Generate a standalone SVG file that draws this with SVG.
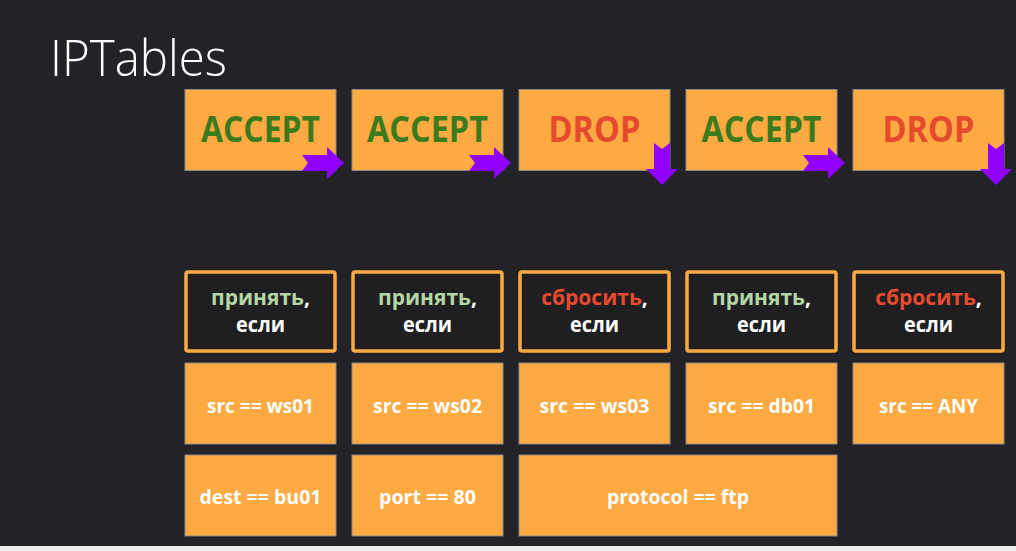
<svg xmlns="http://www.w3.org/2000/svg" width="1016" height="551" viewBox="0 0 1016 551">
<style>
.bg{fill:#232327}
.act{fill:#fdaa42;stroke:#8a8a8a;stroke-width:1}
.cond{fill:#1f1f22;stroke:#fdaa42;stroke-width:3.5}
.val{fill:#fdaa42;stroke:#8a8a8a;stroke-width:1}
.big{font-family:"Open Sans","Noto Sans",sans-serif;font-weight:700;font-size:35px;text-anchor:middle}
.acc{fill:#3b7b1d}
.drp{fill:#e64a2e}
.ct{font-family:"Open Sans","Noto Sans",sans-serif;font-weight:700;font-size:21px;text-anchor:middle;fill:#ffffff}
.g{fill:#b3d6a4}
.r{fill:#e64a2e}
.vt{font-family:"Open Sans","Noto Sans",sans-serif;font-weight:700;font-size:20px;text-anchor:middle;fill:#ffffff}
.arr{fill:#8f00ff}
</style>
<rect class="bg" x="0" y="0" width="1016" height="551"/>
<rect x="0" y="546" width="1016" height="5" fill="#eeeeee"/>
<text x="50" y="76" font-family="'Open Sans','Noto Sans',sans-serif" font-weight="300" font-size="50" fill="#ffffff" textLength="177" lengthAdjust="spacingAndGlyphs">IPTables</text>

<g id="action1"><rect class="act" x="185" y="89.5" width="151" height="81"/><text class="big acc" x="260.5" y="142" textLength="119" lengthAdjust="spacingAndGlyphs">ACCEPT</text></g>
<g id="action2"><rect class="act" x="352" y="89.5" width="151" height="81"/><text class="big acc" x="427.5" y="142" textLength="121" lengthAdjust="spacingAndGlyphs">ACCEPT</text></g>
<g id="action3"><rect class="act" x="519" y="89.5" width="151" height="81"/><text class="big drp" x="594.5" y="142" textLength="92" lengthAdjust="spacingAndGlyphs">DROP</text></g>
<g id="action4"><rect class="act" x="686" y="89.5" width="151" height="81"/><text class="big acc" x="761.5" y="142" textLength="120" lengthAdjust="spacingAndGlyphs">ACCEPT</text></g>
<g id="action5"><rect class="act" x="853" y="89.5" width="151" height="81"/><text class="big drp" x="928.5" y="142" textLength="92" lengthAdjust="spacingAndGlyphs">DROP</text></g>

<g id="cond1"><rect class="cond" x="186" y="272" width="149" height="79" rx="2"/><text class="ct" x="260.5" y="305"><tspan class="g">принять</tspan>,</text><text class="ct" x="260.5" y="332" textLength="49" lengthAdjust="spacingAndGlyphs">если</text></g>
<g id="cond2"><rect class="cond" x="353" y="272" width="149" height="79" rx="2"/><text class="ct" x="427.5" y="305"><tspan class="g">принять</tspan>,</text><text class="ct" x="427.5" y="332" textLength="49" lengthAdjust="spacingAndGlyphs">если</text></g>
<g id="cond3"><rect class="cond" x="520" y="272" width="149" height="79" rx="2"/><text class="ct" x="594.5" y="305"><tspan class="r">сбросить</tspan>,</text><text class="ct" x="594.5" y="332" textLength="49" lengthAdjust="spacingAndGlyphs">если</text></g>
<g id="cond4"><rect class="cond" x="687" y="272" width="149" height="79" rx="2"/><text class="ct" x="761.5" y="305"><tspan class="g">принять</tspan>,</text><text class="ct" x="761.5" y="332" textLength="49" lengthAdjust="spacingAndGlyphs">если</text></g>
<g id="cond5"><rect class="cond" x="854" y="272" width="149" height="79" rx="2"/><text class="ct" x="928.5" y="305"><tspan class="r">сбросить</tspan>,</text><text class="ct" x="928.5" y="332" textLength="49" lengthAdjust="spacingAndGlyphs">если</text></g>

<g id="val1"><rect class="val" x="185" y="363" width="151" height="81"/><text class="vt" x="260.5" y="413" textLength="107" lengthAdjust="spacingAndGlyphs">src == ws01</text></g>
<g id="val2"><rect class="val" x="352" y="363" width="151" height="81"/><text class="vt" x="427.5" y="413" textLength="109" lengthAdjust="spacingAndGlyphs">src == ws02</text></g>
<g id="val3"><rect class="val" x="519" y="363" width="151" height="81"/><text class="vt" x="594.5" y="413" textLength="110" lengthAdjust="spacingAndGlyphs">src == ws03</text></g>
<g id="val4"><rect class="val" x="686" y="363" width="151" height="81"/><text class="vt" x="761.5" y="413" textLength="107" lengthAdjust="spacingAndGlyphs">src == db01</text></g>
<g id="val5"><rect class="val" x="853" y="363" width="151" height="81"/><text class="vt" x="928.5" y="413" textLength="99" lengthAdjust="spacingAndGlyphs">src == ANY</text></g>
<g id="val6"><rect class="val" x="185" y="455" width="151" height="81"/><text class="vt" x="260.5" y="504" textLength="122" lengthAdjust="spacingAndGlyphs">dest == bu01</text></g>
<g id="val7"><rect class="val" x="352" y="455" width="151" height="81"/><text class="vt" x="427.5" y="504" textLength="97" lengthAdjust="spacingAndGlyphs">port == 80</text></g>
<g id="val8"><rect class="val" x="519" y="455" width="318" height="81"/><text class="vt" x="678" y="504" textLength="142" lengthAdjust="spacingAndGlyphs">protocol == ftp</text></g>

<g id="connectors">
<path class="arr" d="M302,155 L327,155 L327,147 L344,163 L327,179 L327,171 L302,171 L308,163 Z"/>
<path class="arr" d="M469,155 L494,155 L494,147 L511,163 L494,179 L494,171 L469,171 L475,163 Z"/>
<path class="arr" d="M654,143 L662,149 L670,143 L670,169 L678,169 L662,185 L646,169 L654,169 Z"/>
<path class="arr" d="M803,155 L828,155 L828,147 L845,163 L828,179 L828,171 L803,171 L809,163 Z"/>
<path class="arr" d="M988,143 L996,149 L1004,143 L1004,169 L1012,169 L996,185 L980,169 L988,169 Z"/>
</g>
</svg>
